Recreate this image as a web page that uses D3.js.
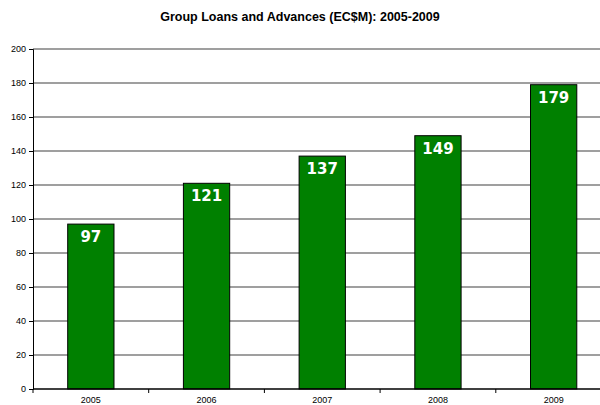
<!DOCTYPE html>
<html><head><meta charset="utf-8">
<script src="https://cdn.jsdelivr.net/npm/d3@7"></script>
<style>body{margin:0;background:#fff}svg{display:block}</style>
</head><body>
<svg id="c" width="600" height="405"></svg>
<script>
const years = ["2005","2006","2007","2008","2009"];
const loans = [97,121,137,149,179];
const yTicks = [0,20,40,60,80,100,120,140,160,180,200];
const title = "Group Loans and Advances (EC$M): 2005-2009";

(function(){
const svg = d3.select("#c");
const left = 33, bandW = 115.7, plotTop = 49, bottom = 389;
const x = d3.scaleBand().domain(years).range([left, left + bandW*years.length]).paddingInner(0.6).paddingOuter(0.3);
const y = d3.scaleLinear().domain([0,200]).range([bottom, plotTop]);

svg.append("text").attr("x",300).attr("y",21).attr("text-anchor","middle")
  .attr("font-family","Liberation Sans, Arial, sans-serif").attr("font-weight","bold").attr("font-size",12.5)
  .text(title);

// gridlines
svg.append("g").selectAll("line").data(yTicks.filter(d=>d>0)).join("line")
  .attr("x1",left).attr("x2",600).attr("y1",d=>y(d)).attr("y2",d=>y(d))
  .attr("stroke","#7f7f7f").attr("stroke-width",1.3);

// y axis
const ya = svg.append("g").attr("transform",`translate(${left},0)`)
  .call(d3.axisLeft(y).tickValues(yTicks).tickSize(4).tickPadding(3).tickFormat(d3.format("d")));
ya.select(".domain").attr("stroke","#000");
ya.selectAll(".tick line").attr("stroke","#000");
ya.selectAll("text").attr("font-family","Liberation Sans, Arial, sans-serif").attr("font-size",9).attr("fill","#000");

// bars
svg.append("g").selectAll("rect").data(loans).join("rect")
  .attr("x",(d,i)=>x(years[i])).attr("width",x.bandwidth())
  .attr("y",d=>y(d)).attr("height",d=>y(0)-y(d))
  .attr("fill","#008000").attr("stroke","#000").attr("stroke-width",1);

// x axis
const xa = svg.append("g").attr("transform",`translate(0,${bottom})`)
  .call(d3.axisBottom(x).tickSize(0).tickPadding(8));
xa.select(".domain").remove();
xa.selectAll("text").attr("font-family","Liberation Sans, Arial, sans-serif").attr("font-size",9).attr("fill","#000");
svg.append("line").attr("x1",left).attr("x2",600).attr("y1",bottom).attr("y2",bottom).attr("stroke","#000").attr("stroke-width",1.3);
svg.append("g").selectAll("line").data(d3.range(years.length+1)).join("line")
  .attr("x1",i=>left+bandW*i).attr("x2",i=>left+bandW*i).attr("y1",bottom).attr("y2",bottom+4).attr("stroke","#000");

// value labels
svg.append("g").selectAll("text").data(loans).join("text")
  .attr("x",(d,i)=>x(years[i])+x.bandwidth()/2).attr("y",d=>y(d)+18)
  .attr("text-anchor","middle").attr("fill","#fff").attr("font-weight","bold")
  .attr("font-family","DejaVu Sans, Verdana, sans-serif").attr("font-size",15)
  .text(d=>d);
})();
</script>
</body></html>
